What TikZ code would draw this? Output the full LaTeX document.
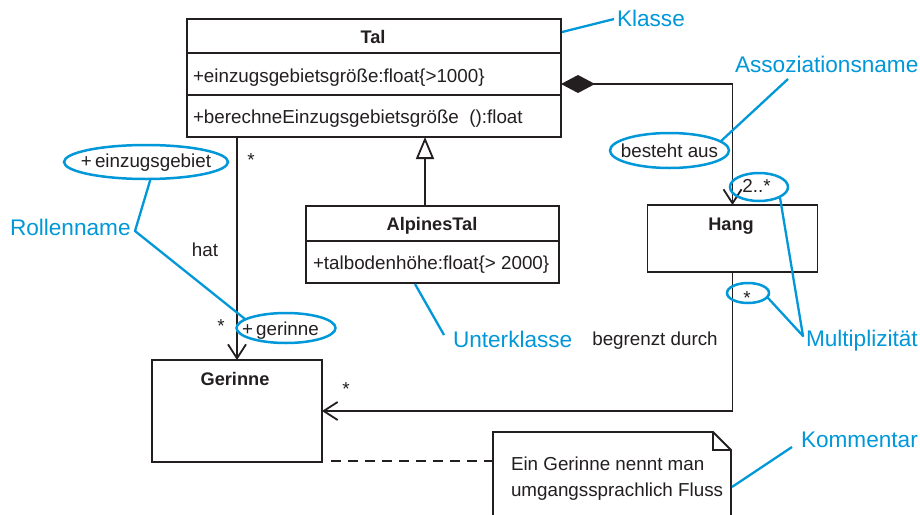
\documentclass[tikz,border=0pt]{standalone}
\usepackage{fontspec}
\setmainfont{Liberation Sans}
\usetikzlibrary{arrows.meta,shapes.geometric}
\definecolor{ink}{RGB}{35,31,32}
\definecolor{anno}{RGB}{0,152,216}
\begin{document}
\begin{tikzpicture}[x=1pt,y=-1pt,
  every node/.style={inner sep=0pt, outer sep=0pt, text=ink},
  txt/.style={font=\fontsize{18.8}{22}\selectfont},
  btxt/.style={font=\fontsize{18.2}{22}\selectfont\bfseries},
  lbl/.style={font=\fontsize{22.6}{26}\selectfont, text=anno},
  umlbox/.style={draw=ink, line width=1.8pt},
  conn/.style={draw=ink, line width=1.8pt},
  annoline/.style={draw=anno, line width=2.3pt, line join=round},
  annoell/.style={ellipse, draw=anno, line width=2.5pt},
  openhead/.style={-{Straight Barb[length=14pt,width=18pt]}},
  notedash/.style={dash pattern=on 10pt off 7pt}
]
\useasboundingbox (0,0) rectangle (920,514);
\fill[white] (0,0) rectangle (920,514);

% helper coordinates
\coordinate (s1) at (0,53);
\coordinate (s2) at (0,95);
\coordinate (s3) at (0,241);
\coordinate (cy) at (0,84);
\coordinate (gx) at (425,0);
\coordinate (ds) at (331,461);

% ---- classes ----
\node[umlbox, minimum width=374pt, minimum height=118pt] (tal) at (374,78) {};
\draw[conn] (tal.west |- s1) -- (tal.east |- s1);
\draw[conn] (tal.west |- s2) -- (tal.east |- s2);
\node[btxt, anchor=base] (taln) at (373,43) {Tal};
\node[txt, anchor=base west] (tala) at (193,82) {+einzugsgebietsgröße:float\{>1000\}};
\node[txt, anchor=base west] (talo) at (193,123) {+berechneEinzugsgebietsgröße\ \ ():float};

\node[umlbox, minimum width=253pt, minimum height=77pt] (alp) at (432.5,244.5) {};
\draw[conn] (alp.west |- s3) -- (alp.east |- s3);
\node[btxt, anchor=base] (alpn) at (432,230) {AlpinesTal};
\node[txt, anchor=base west] (alpa) at (313,269) {+talbodenhöhe:float\{> 2000\}};

\node[umlbox, minimum width=170pt, minimum height=67pt] (hang) at (732.5,238.5) {};
\node[btxt, anchor=base] (hangn) at (731,230) {Hang};

\node[umlbox, minimum width=170pt, minimum height=102pt] (ger) at (237,411) {};
\node[btxt, anchor=base] (gern) at (235,385) {Gerinne};

% ---- note ----
\node[minimum width=238pt, minimum height=90pt, anchor=north west] (note) at (493,432) {};
\draw[umlbox] (note.south west) -- (note.north west) -- ([xshift=-18pt]note.north east)
  -- ([yshift=-18pt]note.north east) -- (note.south east);
\draw[umlbox] ([xshift=-18pt]note.north east) -- ([xshift=-18pt,yshift=-18pt]note.north east)
  -- ([yshift=-18pt]note.north east);
\node[txt, anchor=base west] (note1) at (511,470) {Ein Gerinne nennt man};
\node[txt, anchor=base west] (note2) at (511,496) {umgangssprachlich Fluss};

% ---- connectors ----
\draw[conn, {Diamond[length=34pt,width=18pt]}-{Straight Barb[length=14pt,width=18pt]}]
  (tal.east |- cy) -| (hang.north);
\draw[conn, openhead] (tal.south -| ger.north) -- (ger.north);
\draw[conn, -{Triangle[length=22pt,width=18pt,fill=white]}] (alp.north -| gx) -- (tal.south -| gx);
\draw[conn, openhead] (hang.south) |- (ger.east);
\draw[conn, notedash] (ds) -- (note.west |- ds);

% ---- association texts ----
\node[txt, anchor=base] (st1) at (251,166) {*};
\node[txt, anchor=base] (st2) at (221,332) {*};
\node[txt, anchor=base] (st3) at (346,395) {*};
\node[txt, anchor=base] (hat) at (205,256) {hat};
\node[txt, anchor=base] (bd) at (655,345) {begrenzt durch};

% ---- highlighted ellipses ----
\node[annoell, minimum width=164pt, minimum height=34pt] (eg) at (146,162) {};
\node[txt, anchor=base] (egt) at (146,167) {+\,einzugsgebiet};
\node[annoell, minimum width=99pt, minimum height=30pt] (gr) at (286,328) {};
\node[txt, anchor=base west] (grt) at (242,335) {+\,gerinne};
\node[annoell, minimum width=119pt, minimum height=35pt] (ba) at (669.5,150.5) {};
\node[txt, anchor=base] (bat) at (669.5,157) {besteht aus};
\node[annoell, minimum width=58pt, minimum height=28pt] (m2) at (759,187) {};
\node[txt, anchor=base] (m2t) at (756.5,192) {2..*};
\node[annoell, minimum width=42pt, minimum height=20pt] (m1) at (748,293) {};
\node[txt, anchor=base] (m1t) at (747,304) {*};

% ---- blue labels ----
\node[lbl, anchor=base west] (klasse) at (617,27) {Klasse};
\node[lbl, anchor=base west] (asso) at (735,72) {Assoziationsname};
\node[lbl, anchor=base west] (rolle) at (10,235) {Rollenname};
\node[lbl, anchor=base west] (unter) at (453,347) {Unterklasse};
\node[lbl, anchor=base west] (multi) at (806,346) {Multiplizität};
\node[lbl, anchor=base west] (komm) at (801,447) {Kommentar};

\coordinate (kl1) at (562,32);
\coordinate (kl2) at (614,19);
\coordinate (as1) at (788,79);
\coordinate (rn) at (135,231);
\coordinate (un1) at (415,284);
\coordinate (un2) at (444,335);
\coordinate (mp) at (803,336);
\coordinate (k0) at (732,487);
\coordinate (km) at (792,447);

\draw[annoline] (kl1) -- (kl2);
\draw[annoline] (as1) -- (ba.10);
\draw[annoline] (eg.-75) -- (rn) -- (gr.168);
\draw[annoline] (un1) -- (un2);
\draw[annoline] (m2.-25) -- (mp) -- (m1.-12);
\draw[annoline] (k0) -- (km);
\end{tikzpicture}
\end{document}
